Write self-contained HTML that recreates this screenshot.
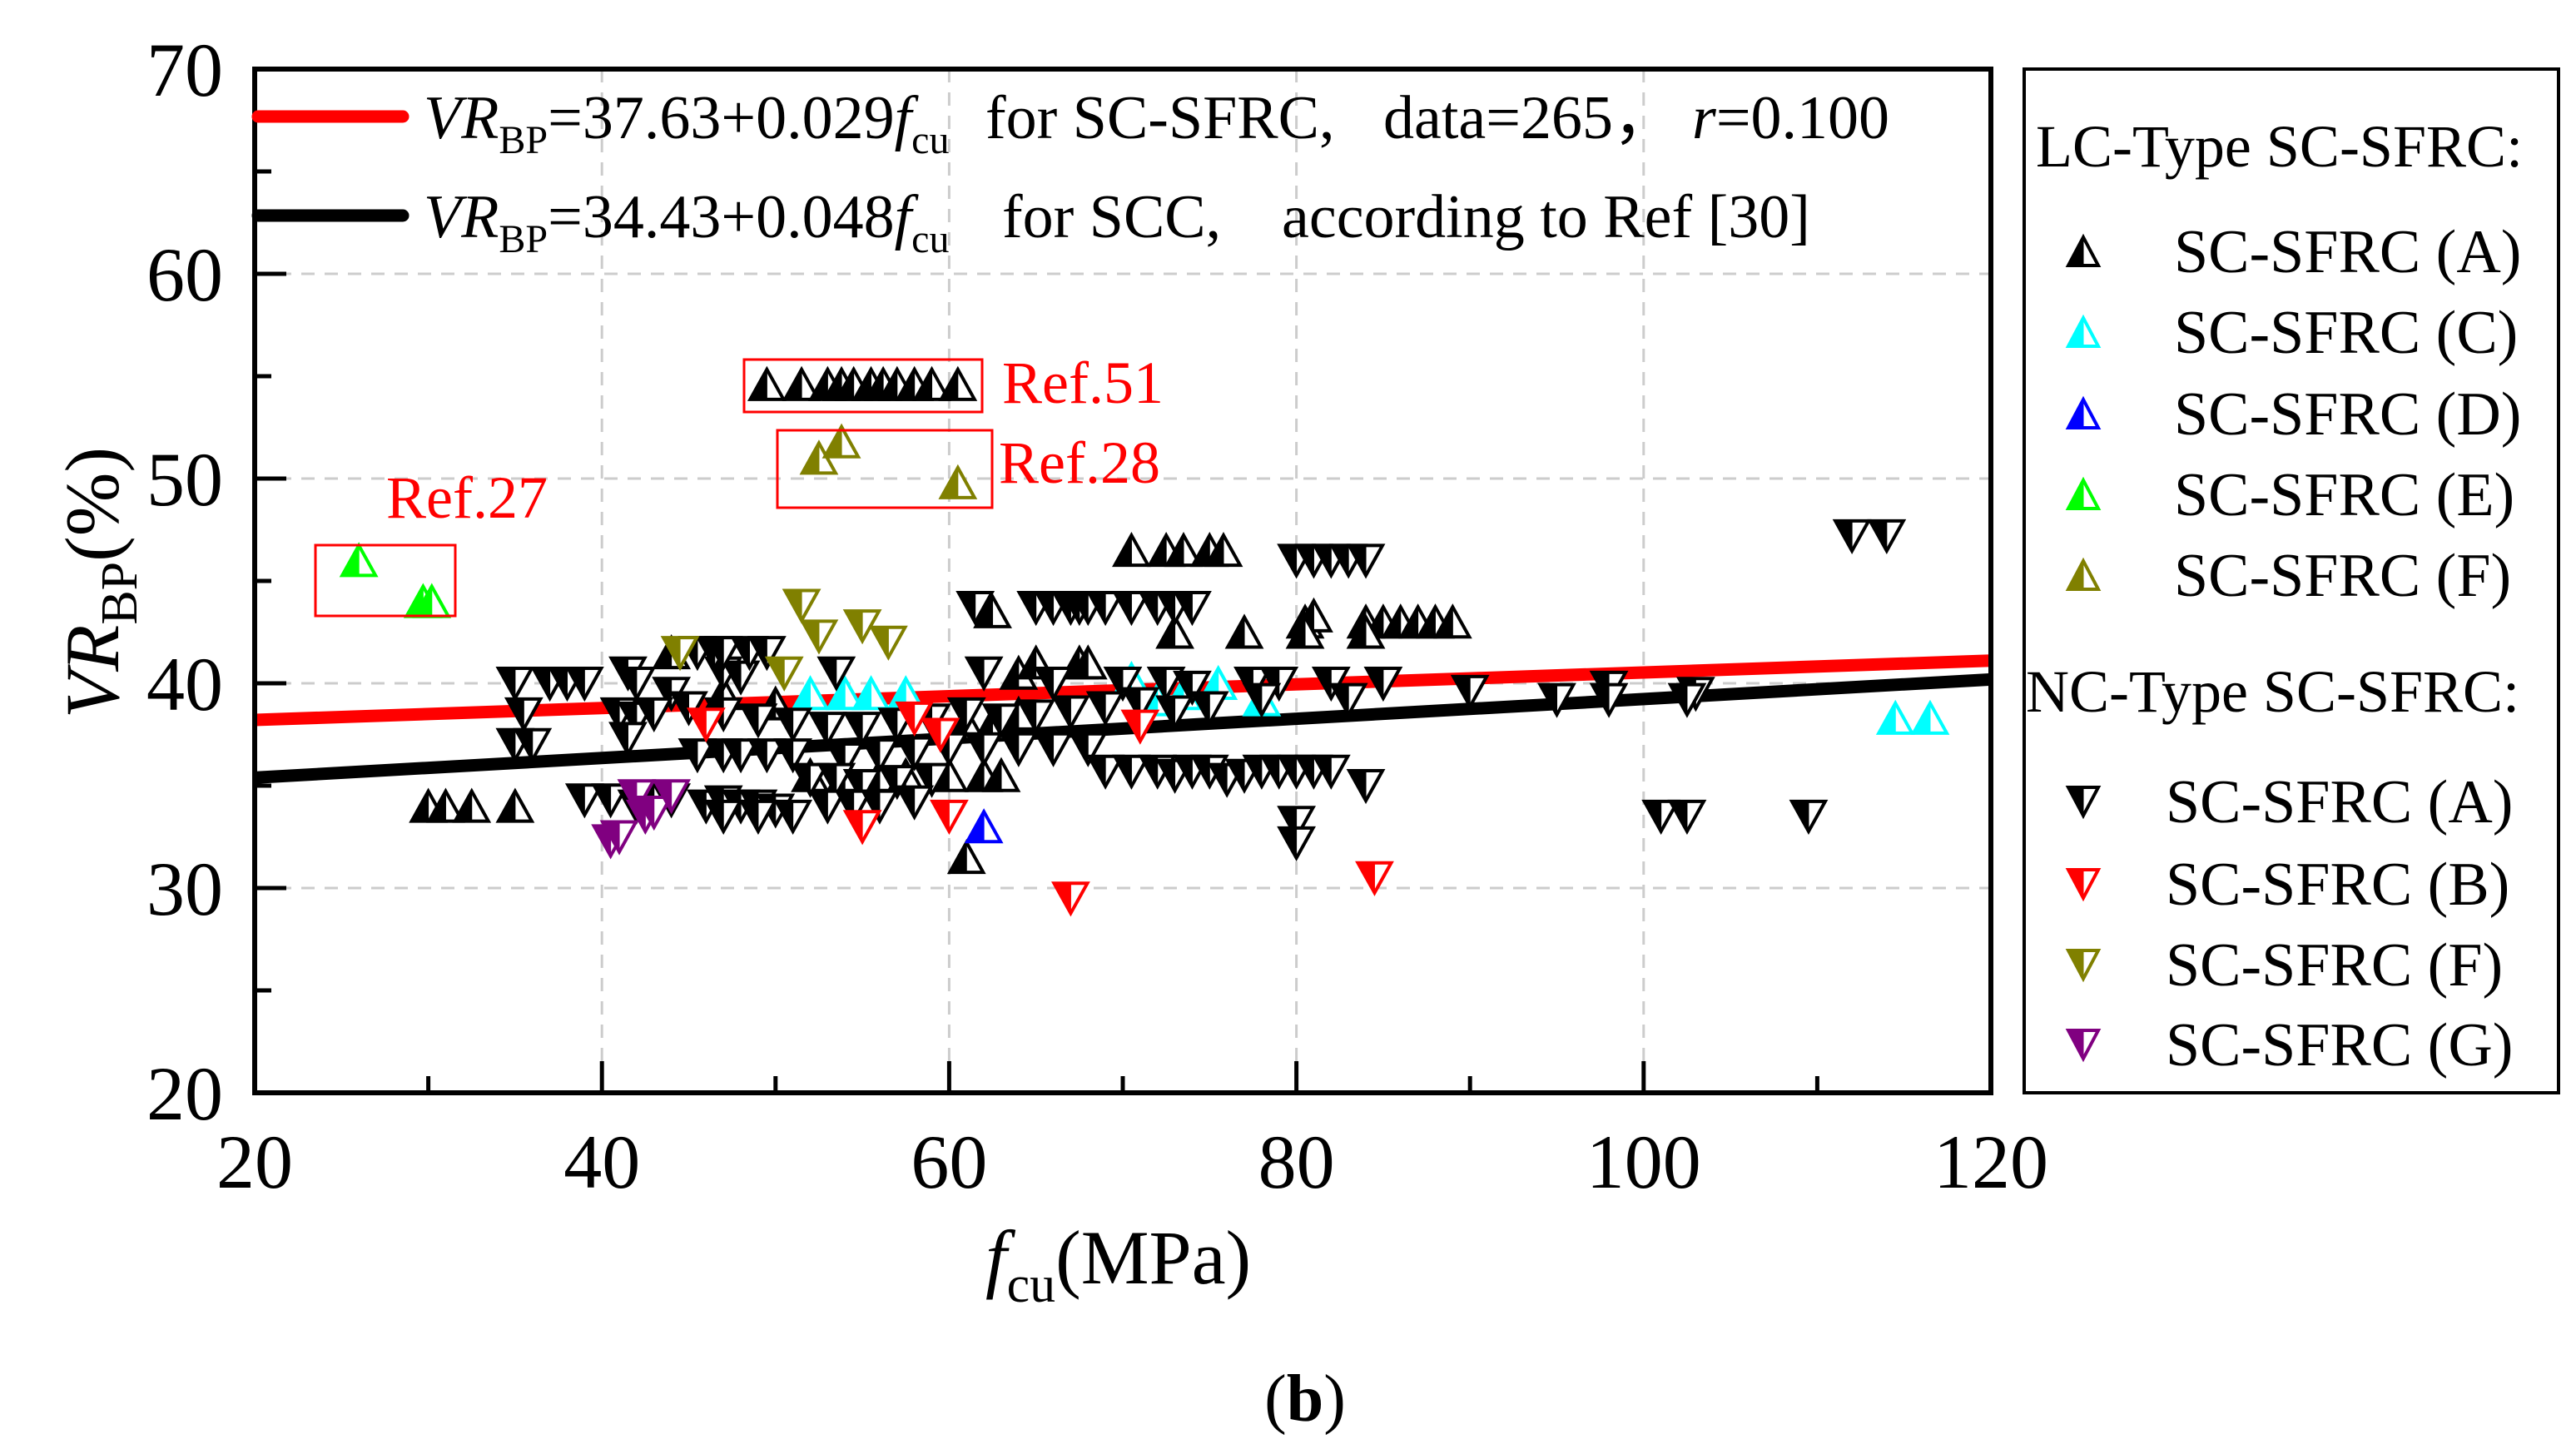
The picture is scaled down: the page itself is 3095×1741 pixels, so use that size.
<!DOCTYPE html>
<html><head><meta charset="utf-8"><style>
body{margin:0;background:#fff}
svg{display:block;font-family:"Liberation Serif",serif}
</style></head><body>
<svg id="chart" width="3095" height="1741" viewBox="0 0 3095 1741" xmlns="http://www.w3.org/2000/svg">
<g id="grid"></g>
<g id="lines"></g>
<g id="marks"></g>
<g id="axes"></g>
<g fill="none" stroke="#f00" stroke-width="3">
<rect x="379" y="655" width="168" height="85"/>
<rect x="894" y="432" width="286" height="63"/>
<rect x="934" y="517" width="258" height="93"/>
</g>
<g font-size="72" fill="#f00">
<text x="464" y="622">Ref.27</text>
<text x="1204" y="484">Ref.51</text>
<text x="1200" y="580">Ref.28</text>
</g>
<g font-size="74">
<line x1="310" y1="140" x2="484" y2="140" stroke="#f00" stroke-width="15" stroke-linecap="round"/>
<line x1="310" y1="259" x2="484" y2="259" stroke="#000" stroke-width="15" stroke-linecap="round"/>
<text x="509" y="166"><tspan font-style="italic">VR</tspan><tspan font-size="48" dy="18">BP</tspan><tspan dy="-18">=37.63+0.029</tspan><tspan font-style="italic">f</tspan><tspan font-size="48" dy="18">cu</tspan><tspan dy="-18" x="1184">for SC-SFRC,</tspan><tspan x="1662">data=265，</tspan><tspan x="2033" font-style="italic">r</tspan><tspan>=0.100</tspan></text>
<text x="509" y="285"><tspan font-style="italic">VR</tspan><tspan font-size="48" dy="18">BP</tspan><tspan dy="-18">=34.43+0.048</tspan><tspan font-style="italic">f</tspan><tspan font-size="48" dy="18">cu</tspan><tspan dy="-18" x="1204">for SCC,</tspan><tspan x="1540">according to Ref [30]</tspan></text>
</g>
<g font-size="92">
<text x="1184" y="1542"><tspan font-style="italic">f</tspan><tspan font-size="62" dy="22">cu</tspan><tspan dy="-22">(MPa)</tspan></text>
</g>
<g font-size="92" transform="translate(112,700) rotate(-90)">
<text x="0" y="30" text-anchor="middle"><tspan font-style="italic">VR</tspan><tspan font-size="62" dy="22">BP</tspan><tspan dy="-22">(%)</tspan></text>
</g>
<text x="1568" y="1707" font-size="80" text-anchor="middle">(<tspan font-weight="bold">b</tspan>)</text>
<g id="legend">
<rect x="2432" y="83" width="642" height="1230" fill="none" stroke="#000" stroke-width="4"/>
<text x="2446" y="200" font-size="72">LC-Type SC-SFRC:</text>
<text x="2434" y="855" font-size="72">NC-Type SC-SFRC:</text>
</g>
</svg>
<script>
// Plot geometry
const X0=306,X1=2392,Y0=1313,Y1=83;
const xMin=20,xMax=120,yMin=20,yMax=70;
const sx=v=>X0+(v-xMin)/(xMax-xMin)*(X1-X0);
const sy=v=>Y0-(v-yMin)/(yMax-yMin)*(Y0-Y1);
const xTicks=[20,40,60,80,100,120];
const yTicks=[20,30,40,50,60,70];
const xMinor=[30,50,70,90,110];
const yMinor=[25,35,45,55,65];
// Fit lines
const redFit=[37.63,0.029];
const blackFit=[34.43,0.048];
// Data
const lcA_x=[49.5,51.5,53,53.8,54.5,55.5,56.2,57,58,59,60.5,30,31,32.5,35,70.5,72.5,73.5,75,75.8,80.5,81,84,85,86,87,88,89,73,77,80.5,84,62.5,64,65,67.5,68,61,62.5,64,52,54,56,57.5,60,62,63,61,44,47,50];
const lcA_y=[54.6,54.6,54.6,54.6,54.6,54.6,54.6,54.6,54.6,54.6,54.6,34,34,34,34,46.5,46.5,46.5,46.5,46.5,43,43.3,43,43,43,43,43,43,42.5,42.5,42.5,42.5,43.5,40.5,41,41,41,38,38,38.5,35.5,35.5,35.5,35.5,35.5,35.5,35.5,31.5,41.5,39.5,39];
const lcC_x=[52,54,55.5,57.5,70.5,72,73.5,75.5,78,114.5,116.5];
const lcC_y=[39.5,39.5,39.5,39.5,40.2,39.2,39.5,40,39.2,38.3,38.3];
const lcD_x=[62];
const lcD_y=[33];
const lcE_x=[26,29.7,30.2];
const lcE_y=[46,44,44];
const lcF_x=[52.5,53.8,60.5];
const lcF_y=[51,51.8,49.8];
const ncA_x=[35,37,38,39,41.5,42,44,47,48,53.5,62,66,70,72.5,74,77.5,79,82,85,90,98,103,61.5,65,66,67,67.5,68,69,70.5,72,73,74,80,81,82,83,84,45.5,46.5,47,48.5,49.5,35.5,41,42,43,45,47,49,51,53,55,57,59,61,63,65,67,69,71,73,75,78,83,95,98,102.5,35,36,41.5,45.5,47,48,49.5,51,54,56,58,60,62,64,66,68,69,70.5,72,73,74,75,76,77,78,79,80,81,82,52,53.5,55,57,59,39,40.5,42,43,44,46,47,48,49,50,53,54.5,56,58,47,49,51,101,102.5,109.5,80,80,112,114,84];
const ncA_y=[40,40,40,40,40.5,40,39.5,40.5,40.3,40.5,40.5,40,40,40,39.8,40,40,40,40,39.6,39.8,39.5,43.7,43.7,43.7,43.7,43.7,43.7,43.7,43.7,43.7,43.7,43.7,46,46,46,46,46,41.5,41.5,41.5,41.5,41.5,38.5,38.5,38.3,38.5,38.8,38.5,38.2,38,37.8,37.8,38,38.2,38.5,38.2,38.4,38.6,38.8,39,38.6,38.8,39.2,39.2,39.2,39.2,39.2,37,37,37.3,36.5,36.5,36.5,36.5,36.5,36.3,36.5,36.6,36.8,36.8,36.8,36.8,36.8,35.7,35.7,35.7,35.5,35.7,35.7,35.3,35.5,35.7,35.7,35.7,35.7,35.7,35.3,35.3,35,35.2,35.3,34.3,34.3,34,34.3,34.3,34,34.2,34,34,33.8,34,34,34,34.2,33.5,33.5,33.5,33.5,33.5,33.5,33.2,32.2,47.2,47.2,35];
const ncB_x=[46,55,58,59.5,60,67,71,84.5];
const ncB_y=[38,33,38.3,37.5,33.5,29.5,37.9,30.5];
const ncF_x=[44.5,51.5,52.5,55,56.5,50.5];
const ncF_y=[41.5,43.8,42.3,42.8,42,40.5];
const ncG_x=[40.5,41,42,42.5,43,44];
const ncG_y=[32.3,32.5,34.5,33.5,33.7,34.5];
const series=[
 {name:'lc-sc-sfrc-a',label:'SC-SFRC (A)',color:'#000',up:true,xs:lcA_x,ys:lcA_y},
 {name:'lc-sc-sfrc-c',label:'SC-SFRC (C)',color:'#0ff',up:true,xs:lcC_x,ys:lcC_y},
 {name:'lc-sc-sfrc-d',label:'SC-SFRC (D)',color:'#00f',up:true,xs:lcD_x,ys:lcD_y},
 {name:'lc-sc-sfrc-e',label:'SC-SFRC (E)',color:'#0f0',up:true,xs:lcE_x,ys:lcE_y},
 {name:'lc-sc-sfrc-f',label:'SC-SFRC (F)',color:'#808000',up:true,xs:lcF_x,ys:lcF_y},
 {name:'nc-sc-sfrc-a',label:'SC-SFRC (A)',color:'#000',up:false,xs:ncA_x,ys:ncA_y},
 {name:'nc-sc-sfrc-b',label:'SC-SFRC (B)',color:'#f00',up:false,xs:ncB_x,ys:ncB_y},
 {name:'nc-sc-sfrc-f',label:'SC-SFRC (F)',color:'#808000',up:false,xs:ncF_x,ys:ncF_y},
 {name:'nc-sc-sfrc-g',label:'SC-SFRC (G)',color:'#800080',up:false,xs:ncG_x,ys:ncG_y}
];
const NS='http://www.w3.org/2000/svg';
function mk(tag,attrs,parent){const e=document.createElementNS(NS,tag);for(const k in attrs)e.setAttribute(k,attrs[k]);parent.appendChild(e);return e;}
const grid=document.getElementById('grid'),axes=document.getElementById('axes'),lines=document.getElementById('lines'),marks=document.getElementById('marks'),legend=document.getElementById('legend');
xTicks.slice(1,-1).forEach(v=>{const l=mk('line',{x1:sx(v),x2:sx(v),y1:Y1,y2:Y0,stroke:'#ccc','stroke-width':3,'stroke-dasharray':'16 12'},grid);});
yTicks.slice(1,-1).forEach(v=>{const l=mk('line',{x1:X0,x2:X1,y1:sy(v),y2:sy(v),stroke:'#ccc','stroke-width':3,'stroke-dasharray':'16 12'},grid);});
function fit(c,name,col){const l=mk('line',{x1:sx(xMin),y1:sy(c[0]+c[1]*xMin),x2:sx(xMax),y2:sy(c[0]+c[1]*xMax),stroke:col,'stroke-width':15},lines);}
fit(redFit,'sc-sfrc-fit-line','#f00');fit(blackFit,'scc-fit-line','#000');
function tri(g,cx,cy,up,col,w,h){
 const a=up?cy-h/2:cy+h/2,b=up?cy+h/2:cy-h/2;
 mk('polygon',{points:`${cx},${a} ${cx-w/2},${b} ${cx+w/2},${b}`,fill:'#fff',stroke:col,'stroke-width':4,'stroke-linejoin':'miter'},g);
 mk('polygon',{points:`${cx},${a} ${cx-w/2},${b} ${cx},${b}`,fill:col,stroke:col,'stroke-width':1},g);
}
series.forEach(s=>{const g=mk('g',{},marks);
 s.xs.forEach((x,i)=>{const p=mk('g',{},g);tri(p,sx(x),sy(s.ys[i]),s.up,s.color,40,36);});});
// axes frame
const fr=mk('rect',{x:X0,y:Y1,width:X1-X0,height:Y0-Y1,fill:'none',stroke:'#000','stroke-width':6},axes);
xTicks.forEach(v=>{mk('line',{x1:sx(v),x2:sx(v),y1:Y0,y2:Y0-38,stroke:'#000','stroke-width':5},axes);const t=mk('text',{x:sx(v),y:1427,'font-size':92,'text-anchor':'middle'},axes);t.textContent=v;});
xMinor.forEach(v=>mk('line',{x1:sx(v),x2:sx(v),y1:Y0,y2:Y0-20,stroke:'#000','stroke-width':5},axes));
yTicks.forEach(v=>{mk('line',{x1:X0,x2:X0+38,y1:sy(v),y2:sy(v),stroke:'#000','stroke-width':5},axes);const t=mk('text',{x:268,y:sy(v)+32,'font-size':92,'text-anchor':'end'},axes);t.textContent=v;});
yMinor.forEach(v=>mk('line',{x1:X0,x2:X0+20,y1:sy(v),y2:sy(v),stroke:'#000','stroke-width':5},axes));
// legend entries
const legY=[302,399,497,594,691,963,1062,1159,1255];
series.forEach((s,i)=>{const g=mk('g',{},legend);
 tri(g,2503,legY[i],s.up,s.color,36,34);const t=mk('text',{x:s.up?2612:2602,y:legY[i]+25,'font-size':74},g);t.textContent=s.label;});
</script>
</body></html>
